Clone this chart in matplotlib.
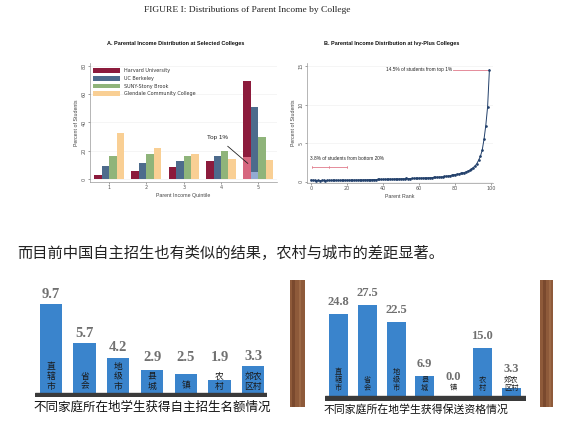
import matplotlib
matplotlib.use('Agg')
import matplotlib.pyplot as plt
from matplotlib.patches import Rectangle
import numpy as np

W, H = 583, 428
fig = plt.figure(figsize=(W / 100, H / 100), dpi=100)
fig.patch.set_facecolor('white')

CJK = ['Noto Sans CJK SC', 'DejaVu Sans']
SANS = ['Liberation Sans', 'DejaVu Sans']
SERIF = ['Liberation Serif', 'DejaVu Serif']


def ax_px(l, t, r, b):
    return fig.add_axes([l / W, 1 - b / H, (r - l) / W, (b - t) / H])


def fig_text(x, y, s, **kw):
    fig.text(x / W, 1 - y / H, s, **kw)


# ---------------- data ----------------
quintiles = [1, 2, 3, 4, 5]
colleges = ["Harvard University", "UC Berkeley", "SUNY-Stony Brook", "Glendale Community College"]
harvard = [3, 5.5, 8.5, 13, 69.5]
berkeley = [9, 11, 13, 16.5, 51]
suny = [16.5, 17.5, 16.5, 20, 30]
glendale = [32.5, 22, 17.5, 14.5, 13.5]
top1_harvard = 15.5
top1_berkeley = 5.2

parent_rank = list(range(100))
ivy_share = [0.25, 0.19, 0.18, 0.17, 0.18, 0.17, 0.18, 0.19, 0.17, 0.18,
             0.19, 0.18, 0.19, 0.20, 0.19, 0.20, 0.19, 0.20, 0.21, 0.20,
             0.21, 0.22, 0.21, 0.23, 0.22, 0.24, 0.23, 0.25, 0.24, 0.26,
             0.27, 0.26, 0.28, 0.27, 0.29, 0.30, 0.29, 0.31, 0.32, 0.31,
             0.33, 0.34, 0.33, 0.35, 0.36, 0.35, 0.37, 0.38, 0.37, 0.39,
             0.40, 0.41, 0.40, 0.50, 0.42, 0.43, 0.45, 0.44, 0.46, 0.47,
             0.48, 0.49, 0.50, 0.51, 0.50, 0.53, 0.54, 0.55, 0.57, 0.58,
             0.60, 0.62, 0.64, 0.66, 0.70, 0.72, 0.76, 0.80, 0.85, 0.90,
             0.95, 1.00, 1.02, 1.10, 1.15, 1.20, 1.30, 1.40, 1.50, 1.65,
             1.85, 2.05, 2.35, 2.80, 3.30, 4.10, 5.50, 7.30, 9.70, 14.50]

locations = ["直辖市", "省会", "地级市", "县城", "镇", "农村", "郊农区村"]
autonomous_quota = [9.7, 5.7, 4.2, 2.9, 2.5, 1.9, 3.3]
recommend_quota = [24.8, 27.5, 22.5, 6.9, 0.0, 15.0, 3.3]

# ---------------- figure title ----------------
fig_text(247, 10, "FIGURE I: Distributions of Parent Income by College",
         ha='center', va='center', fontsize=6.8, family=SERIF, color='#222222')

# ---------------- panel A ----------------
colors_a = ['#8C1B3C', '#4D6B8C', '#8FB47A', '#F9CF94']
axA = ax_px(90, 63, 277, 182)
offs = [-0.3, -0.1, 0.1, 0.3]
series = [harvard, berkeley, suny, glendale]
for s, o, c, name in zip(series, offs, colors_a, colleges):
    axA.bar([q + o for q in quintiles], s, width=0.2, color=c, label=name, zorder=2)
axA.bar(5 + offs[0], top1_harvard, width=0.2, color='#D6677F', zorder=3)
axA.bar(5 + offs[1], top1_berkeley, width=0.2, color='#93ABD3', zorder=3)
axA.set_xlim(0.49, 5.5)
axA.set_ylim(-2.1, 82.1)
axA.set_yticks([0, 20, 40, 60, 80])
axA.set_xticks(quintiles)
axA.tick_params(labelsize=3.5, length=1.5, width=0.4, colors='#555555', pad=1)
for lab in axA.get_yticklabels():
    lab.set_rotation(90)
    lab.set_va('center')
axA.grid(axis='y', color='#eeeeee', lw=0.4, zorder=0)
for sp in ['top', 'right']:
    axA.spines[sp].set_visible(False)
for sp in ['left', 'bottom']:
    axA.spines[sp].set_color('#999999')
    axA.spines[sp].set_linewidth(0.5)
axA.set_xlabel("Parent Income Quintile", fontsize=3.8, color='#444444', labelpad=2, family=SANS)
axA.set_ylabel("Percent of Students", fontsize=3.8, color='#444444', labelpad=2, family=SANS)
leg = axA.legend(loc='upper left', bbox_to_anchor=(0.0, 0.98), fontsize=3.5, frameon=False,
                 handlelength=5.5, handleheight=1.1, labelspacing=0.55, borderaxespad=0.2)
for t in leg.get_texts():
    t.set_color('#333333')
axA.annotate("Top 1%", xy=(4.72, 11), xytext=(3.9, 29.5), fontsize=4.5, family=SANS,
             ha='center', va='center', color='#222222',
             arrowprops=dict(arrowstyle='-', color='#222222', lw=0.6, shrinkA=4, shrinkB=0))
fig_text(176, 44, "A. Parental Income Distribution at Selected Colleges",
         ha='center', va='center', fontsize=4, fontweight='bold', family=SANS, color='#111111')

# ---------------- panel B ----------------
axB = ax_px(307, 63, 493, 183)
axB.plot(parent_rank, ivy_share, color='#22406B', lw=0.7, marker='o', ms=0.9, zorder=3)
axB.set_xlim(-2.2, 101)
axB.set_ylim(-0.15, 15.4)
axB.set_xticks([0, 20, 40, 60, 80, 100])
axB.set_yticks([0, 5, 10, 15])
axB.tick_params(labelsize=3.5, length=1.5, width=0.4, colors='#555555', pad=1)
for lab in axB.get_yticklabels():
    lab.set_rotation(90)
    lab.set_va('center')
axB.grid(axis='y', color='#eeeeee', lw=0.4, zorder=0)
for sp in ['top', 'right']:
    axB.spines[sp].set_visible(False)
for sp in ['left', 'bottom']:
    axB.spines[sp].set_color('#999999')
    axB.spines[sp].set_linewidth(0.5)
axB.set_xlabel("Parent Rank", fontsize=3.8, color='#444444', labelpad=2, family=SANS)
axB.set_ylabel("Percent of Students", fontsize=3.8, color='#444444', labelpad=2, family=SANS)
axB.plot([79, parent_rank[-1]], [ivy_share[-1], ivy_share[-1]], color='#E07A8A', lw=0.6, zorder=2)
axB.text(78.5, ivy_share[-1], "14.5% of students from top 1%", fontsize=3.4, family=SANS,
         ha='right', va='center', color='#222222')
axB.plot([0.4, 20], [1.94, 1.94], color='#E07A8A', lw=0.6)
for xv in [0.4, 10, 20]:
    axB.plot([xv, xv], [1.8, 2.08], color='#E07A8A', lw=0.5)
axB.text(-0.5, 3.0, "3.8% of students from bottom 20%", fontsize=3.4, family=SANS,
         ha='left', va='center', color='#222222')
fig_text(392, 44, "B. Parental Income Distribution at Ivy-Plus Colleges",
         ha='center', va='center', fontsize=4, fontweight='bold', family=SANS, color='#111111')

# ---------------- Chinese sentence ----------------
fig_text(17, 253, "而目前中国自主招生也有类似的结果，农村与城市的差距显著。",
         ha='left', va='center', fontsize=11, family=CJK, color='#222222')


def label_rows(name):
    if len(name) == 4:
        return [name[:2], name[2:]]
    return list(name)


def draw_inner(ax, x, ybase, name, first_pt, pitch_pt, size):
    rows = label_rows(name)
    for i, row in enumerate(reversed(rows)):
        ax.annotate(row, xy=(x, ybase), xytext=(0, first_pt + i * pitch_pt),
                    textcoords='offset points', ha='center', va='center',
                    fontsize=size, family=CJK, color='#1a1a1a', zorder=5)


BAR_BLUE = '#3A84CC'
NUM_GRAY = '#707070'

# ---------------- bottom-left chart ----------------
axL = ax_px(35, 280, 267, 397)
xs = np.arange(len(locations))
axL.bar(xs, autonomous_quota, width=0.66, color=BAR_BLUE, zorder=2)
axL.set_xlim(-0.47, 6.41)
axL.set_ylim(0.15, 12.17)
axL.axhspan(0.15, 0.56, color='#3a3a3a', zorder=4)
axL.axis('off')
for x, v, name in zip(xs, autonomous_quota, locations):
    axL.text(x, max(v + 1.0, 4.2), f"{v:.1f}", ha='center', va='center', fontsize=10.5,
             fontweight='bold', family=SERIF, color=NUM_GRAY)
    draw_inner(axL, x, 0.56, name, 5.0, 6.9, 6.3)
fig_text(152, 407, "不同家庭所在地学生获得自主招生名额情况", ha='center', va='center',
         fontsize=9, family=CJK, color='#111111')

# ---------------- bottom-right chart ----------------
fig.patches.append(Rectangle((290 / W, 1 - 407 / H), 15 / W, 127 / H, transform=fig.transFigure,
                             facecolor='#8E5A3A', edgecolor='none', zorder=0))
fig.patches.append(Rectangle((540 / W, 1 - 407 / H), 13 / W, 127 / H, transform=fig.transFigure,
                             facecolor='#8E5A3A', edgecolor='none', zorder=0))
for xw, ww, cc in [(292, 3, '#6E3F26'), (299, 2, '#A8744F'), (543, 3, '#6E3F26'), (549, 2, '#A8744F')]:
    fig.patches.append(Rectangle((xw / W, 1 - 407 / H), ww / W, 127 / H, transform=fig.transFigure,
                                 facecolor=cc, edgecolor='none', zorder=0, alpha=0.6))

axR = ax_px(325, 280, 526, 400.7)
axR.bar(xs, recommend_quota, width=0.66, color=BAR_BLUE, zorder=2)
axR.set_xlim(-0.47, 6.52)
axR.set_ylim(-0.26, 34.7)
axR.axhspan(-0.26, 1.1, color='#3a3a3a', zorder=4)
axR.axis('off')
px_per_unit_R = 3.45
for x, v, name in zip(xs, recommend_quota, locations):
    n_rows = len(label_rows(name))
    inner_top = 1.1 + (8 + (n_rows - 1) * 8 + 11) / px_per_unit_R
    axR.text(x, max(v + 3.4, inner_top), f"{v:.1f}", ha='center', va='center', fontsize=9,
             fontweight='bold', family=SERIF, color=NUM_GRAY)
    draw_inner(axR, x, 1.1, name, 5.8, 5.8, 5.2)
fig_text(416, 409, "不同家庭所在地学生获得保送资格情况", ha='center', va='center',
         fontsize=7.8, family=CJK, color='#111111')

fig.savefig('out.png', dpi=100)
